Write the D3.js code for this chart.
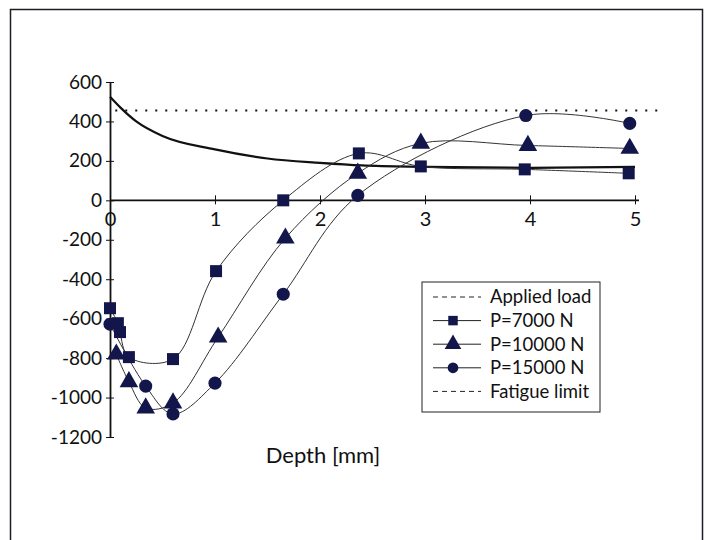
<!DOCTYPE html>
<html>
<head>
<meta charset="utf-8">
<script src="https://cdn.jsdelivr.net/npm/d3@7"></script>
<style>
  body { margin: 0; background: #fff; }
  svg { font-family: Lato, "Open Sans", sans-serif; }
  .axis-label { font-size: 19px; fill: #111; }
  .legend-text { font-size: 18.5px; fill: #111; }
</style>
</head>
<body>
<svg id="chart"></svg>
<script>
// x ticks / y ticks
const xTicks = [0, 1, 2, 3, 4, 5];
const xTickLabels = ['0', '1', '2', '3', '4', '5'];
const yTicks = [600, 400, 200, 0, -200, -400, -600, -800, -1000, -1200];
const yTickLabels = ['600', '400', '200', '0', '-200', '-400', '-600', '-800', '-1000', '-1200'];

// P=7000 N (squares)
const sqDepth  = [0, 0.075, 0.095, 0.18, 0.6, 1.01, 1.65, 2.37, 2.96, 3.95, 4.94];
const sqStress = [-547, -623, -668, -795, -805, -359, 0, 238, 172, 157, 137];

// P=10000 N (triangles)
const triDepth  = [0.06, 0.18, 0.34, 0.6, 1.03, 1.67, 2.36, 2.96, 3.98, 4.95];
const triStress = [-780, -920, -1053, -1028, -694, -192, 137, 289, 278, 263];

// P=15000 N (circles)
const cirDepth  = [0, 0.34, 0.6, 1.0, 1.65, 2.36, 3.96, 4.95];
const cirStress = [-628, -942, -1083, -927, -476, 25, 430, 390];

// Fatigue limit
const fatDepth  = [0, 0.1, 0.25, 0.5, 1, 1.5, 2, 2.4, 3, 4, 5];
const fatStress = [525, 470, 400, 326, 258, 212, 190, 177, 170, 165, 170];

// Applied load
const loadDepth  = [0.05, 5.25];
const loadStress = [455, 455];

const legendNames = ['Applied load', 'P=7000 N', 'P=10000 N', 'P=15000 N', 'Fatigue limit'];

const zip = (xs, ys) => xs.map((x, i) => [x, ys[i]]);

class DepthChart {
  constructor(_config) {
    this.config = {
      parentElement: _config.parentElement,
      containerWidth: 707,
      containerHeight: 540,
      x0: 110, x1: 635,
      yTop: 82, yBottom: 437
    };
    this.initVis();
  }

  initVis() {
    let vis = this;
    vis.svg = d3.select(vis.config.parentElement)
      .attr('width', vis.config.containerWidth)
      .attr('height', vis.config.containerHeight);

    // frame around the figure
    vis.svg.append('rect')
      .attr('x', 10.5).attr('y', 9.5)
      .attr('width', 692).attr('height', 545)
      .attr('fill', 'none')
      .attr('stroke', '#1c1c24')
      .attr('stroke-width', 1.5);

    vis.xScale = d3.scaleLinear().domain([0, 5]).range([vis.config.x0, vis.config.x1]);
    vis.yScale = d3.scaleLinear().domain([-1200, 600]).range([vis.config.yBottom, vis.config.yTop]);

    vis.line = d3.line()
      .x(d => vis.xScale(d[0]))
      .y(d => vis.yScale(d[1]))
      .curve(d3.curveCatmullRom.alpha(0.5));

    vis.renderVis();
  }

  renderVis() {
    let vis = this;
    const navy = '#12164a';

    // y axis
    const yAxis = d3.axisLeft(vis.yScale)
      .tickValues(yTicks)
      .tickFormat((d, i) => yTickLabels[i])
      .tickSizeInner(4)
      .tickSizeOuter(0)
      .tickPadding(4);
    const yAxisG = vis.svg.append('g')
      .attr('transform', `translate(${vis.xScale(0)},0)`)
      .call(yAxis);
    yAxisG.attr('font-family', null).attr('font-size', null);
    yAxisG.select('.domain').attr('stroke', '#111').attr('stroke-width', 1.8);
    yAxisG.selectAll('.tick line').attr('x2', 4).attr('x1', -4).attr('stroke', '#111');
    yAxisG.selectAll('.tick text').attr('class', 'axis-label');

    // x axis at y = 0
    const xAxis = d3.axisBottom(vis.xScale)
      .tickValues(xTicks)
      .tickFormat((d, i) => xTickLabels[i])
      .tickSizeInner(4)
      .tickSizeOuter(0)
      .tickPadding(7);
    const xAxisG = vis.svg.append('g')
      .attr('transform', `translate(0,${vis.yScale(0)})`)
      .call(xAxis);
    xAxisG.attr('font-family', null).attr('font-size', null);
    xAxisG.select('.domain').attr('stroke', '#111').attr('stroke-width', 1.8)
      .attr('d', `M${vis.xScale(0)},0H${vis.xScale(5) + 4}`);
    xAxisG.selectAll('.tick line').attr('y1', -5).attr('y2', 4).attr('stroke', '#111');
    xAxisG.selectAll('.tick text').attr('class', 'axis-label').style('font-size', '20px');

    // applied load (dotted)
    vis.svg.append('path')
      .datum(zip(loadDepth, loadStress))
      .attr('d', d3.line().x(d => vis.xScale(d[0])).y(d => vis.yScale(d[1])))
      .attr('fill', 'none')
      .attr('stroke', '#111')
      .attr('stroke-width', 2)
      .attr('stroke-dasharray', '2,8');

    // fatigue limit
    vis.svg.append('path')
      .datum(zip(fatDepth, fatStress))
      .attr('d', d3.line().x(d => vis.xScale(d[0])).y(d => vis.yScale(d[1])).curve(d3.curveMonotoneX))
      .attr('fill', 'none')
      .attr('stroke', '#111')
      .attr('stroke-width', 2.2);

    const series = [
      { data: zip(sqDepth, sqStress), symbol: d3.symbolSquare, size: 144 },
      { data: zip(triDepth, triStress), symbol: d3.symbolTriangle, size: 150 },
      { data: zip(cirDepth, cirStress), symbol: d3.symbolCircle, size: 135 }
    ];

    series.forEach(s => {
      vis.svg.append('path')
        .datum(s.data)
        .attr('d', vis.line)
        .attr('fill', 'none')
        .attr('stroke', '#333')
        .attr('stroke-width', 1);
    });
    series.forEach(s => {
      vis.svg.append('g').selectAll('path')
        .data(s.data)
        .join('path')
        .attr('d', d3.symbol().type(s.symbol).size(s.size))
        .attr('transform', d => `translate(${vis.xScale(d[0])},${vis.yScale(d[1])})`)
        .attr('fill', navy);
    });

    // axis title
    vis.svg.append('text')
      .attr('x', 323)
      .attr('y', 463)
      .attr('text-anchor', 'middle')
      .attr('font-size', '22px')
      .attr('fill', '#111')
      .text('Depth [mm]');

    // legend
    const lg = vis.svg.append('g').attr('transform', 'translate(422,282)');
    lg.append('rect')
      .attr('width', 178).attr('height', 130)
      .attr('fill', '#fff')
      .attr('stroke', '#222')
      .attr('stroke-width', 1);
    const kinds = ['dash', d3.symbolSquare, d3.symbolTriangle, d3.symbolCircle, 'dash'];
    legendNames.forEach((name, i) => {
      const cy = 15 + i * 23.6;
      const row = lg.append('g').attr('transform', `translate(0,${cy})`);
      row.append('line')
        .attr('x1', 11).attr('x2', 59)
        .attr('stroke', '#222')
        .attr('stroke-width', 1)
        .attr('stroke-dasharray', kinds[i] === 'dash' ? '5,4' : null);
      if (kinds[i] !== 'dash') {
        row.append('path')
          .attr('d', d3.symbol().type(kinds[i]).size(kinds[i] === d3.symbolTriangle ? 120 : 90))
          .attr('transform', 'translate(31,0)')
          .attr('fill', navy);
      }
      row.append('text')
        .attr('class', 'legend-text')
        .attr('x', 68)
        .attr('dy', '0.35em')
        .text(name);
    });
  }
}

new DepthChart({ parentElement: '#chart' });
</script>
</body>
</html>
